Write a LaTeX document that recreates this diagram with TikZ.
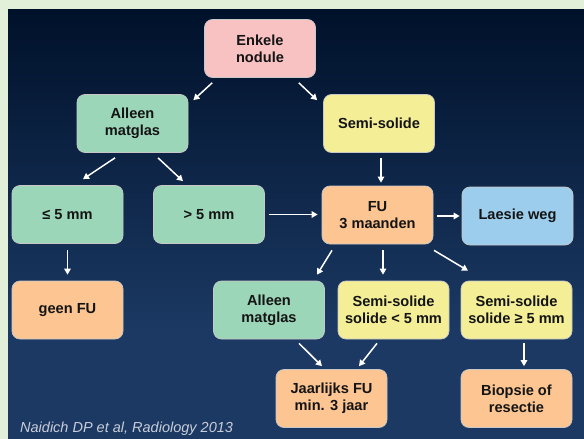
\documentclass[tikz,border=0pt]{standalone}
\usepackage{fontspec}
\setmainfont{Liberation Sans}
\usetikzlibrary{arrows.meta,calc}
\definecolor{bord}{HTML}{E2EFD9}
\definecolor{bgtop}{HTML}{00112A}
\definecolor{bgbot}{HTML}{1B3963}
\definecolor{cpink}{HTML}{F8C1C2}
\definecolor{cgreen}{HTML}{9CD6B8}
\definecolor{cyellow}{HTML}{F4EF97}
\definecolor{corange}{HTML}{FCC592}
\definecolor{cblue}{HTML}{9DCDEC}
\definecolor{boxedge}{HTML}{C8C8C8}
\definecolor{txt}{HTML}{141414}
\definecolor{cite}{HTML}{C9CDD8}
\begin{document}
\begin{tikzpicture}[x=1pt,y=-1pt,
  box/.style={rounded corners=8pt, draw=boxedge, line width=0.7pt,
    minimum width=111pt, minimum height=58pt, align=center, inner sep=0pt,
    font=\fontsize{14.6}{16.8}\selectfont\bfseries, text=txt},
  arr/.style={draw=white, line width=1.5pt, -{Triangle[length=6pt,width=6.5pt]}}]
\useasboundingbox (0,0) rectangle (584,439);
\fill[bord] (0,0) rectangle (584,439);
\shade[top color=bgtop, bottom color=bgbot] (8,9) rectangle (584,331);
\fill[bgbot] (8,330) rectangle (584,439);

\node[box, fill=cpink]   (enk)  at (260,48.5)  {Enkele\\nodule};
\node[box, fill=cgreen]  (am1)  at (132.5,123.5) {Alleen\\matglas};
\node[box, fill=cyellow] (ss1)  at (379,123.5) {Semi-solide};
\node[box, fill=cgreen]  (le5)  at (67.5,214.5) {≤ 5 mm};
\node[box, fill=cgreen]  (gt5)  at (209,214.5) {> 5 mm};
\node[box, fill=corange] (fu)   at (377.5,215) {FU\\3 maanden};
\node[box, fill=cblue]   (lw)   at (517.5,216) {Laesie weg};
\node[box, fill=corange] (geen) at (67.5,310) {geen FU};
\node[box, fill=cgreen]  (am2)  at (269,310) {Alleen\\matglas};
\node[box, fill=cyellow] (ss2)  at (393.5,310) {Semi-solide\\solide < 5 mm};
\node[box, fill=cyellow] (ss3)  at (516.5,310) {Semi-solide\\solide ≥ 5 mm};
\node[box, fill=corange] (jf)   at (331.5,398.5) {Jaarlijks FU\\min. 3 jaar};
\node[box, fill=corange] (bio)  at (516.5,398.5) {Biopsie of\\resectie};

\node[anchor=base west, text=cite, font=\fontsize{14.5}{17}\selectfont\itshape, inner sep=0pt]
  (cit) at (20,432) {Naidich DP et al, Radiology 2013};

\draw[arr] ([shift={(8,5)}]enk.south west) -- ([shift={(5,6)}]am1.north east);
\draw[arr] ([shift={(-17,5)}]enk.south east) -- ([shift={(-6,6)}]ss1.north west);
\draw[arr] ([shift={(-17.5,5)}]am1.south) -- ([shift={(15.5,-6)}]le5.north);
\draw[arr] ([shift={(25.5,5)}]am1.south) -- ([shift={(-26,-4)}]gt5.north);
\draw[arr] ([shift={(0,6)}]le5.south) -- ([shift={(0,-6)}]geen.north);
\draw[arr] ([shift={(4,0)}]gt5.east) -- ([shift={(-4,-0.5)}]fu.west);
\draw[arr] ([shift={(2,5)}]ss1.south) -- ([shift={(3.5,-3)}]fu.north);
\draw[arr] ([shift={(4,1)}]fu.east) -- ([shift={(-2,0)}]lw.west);
\draw[arr] ([shift={(-45.5,6)}]fu.south) -- ([shift={(48,-6)}]am2.north);
\draw[arr] ([shift={(5.5,6)}]fu.south) -- ([shift={(-10.5,-6)}]ss2.north);
\draw[arr] ([shift={(56.5,6)}]fu.south) -- ([shift={(-48.5,-10)}]ss3.north);
\draw[arr] ([shift={(30,4)}]am2.south) -- ([shift={(-9.5,-3)}]jf.north);
\draw[arr] ([shift={(-16.5,4)}]ss2.south) -- ([shift={(27.5,-3)}]jf.north);
\draw[arr] ([shift={(7.5,4)}]ss3.south) -- ([shift={(7.5,-3)}]bio.north);
\end{tikzpicture}
\end{document}
